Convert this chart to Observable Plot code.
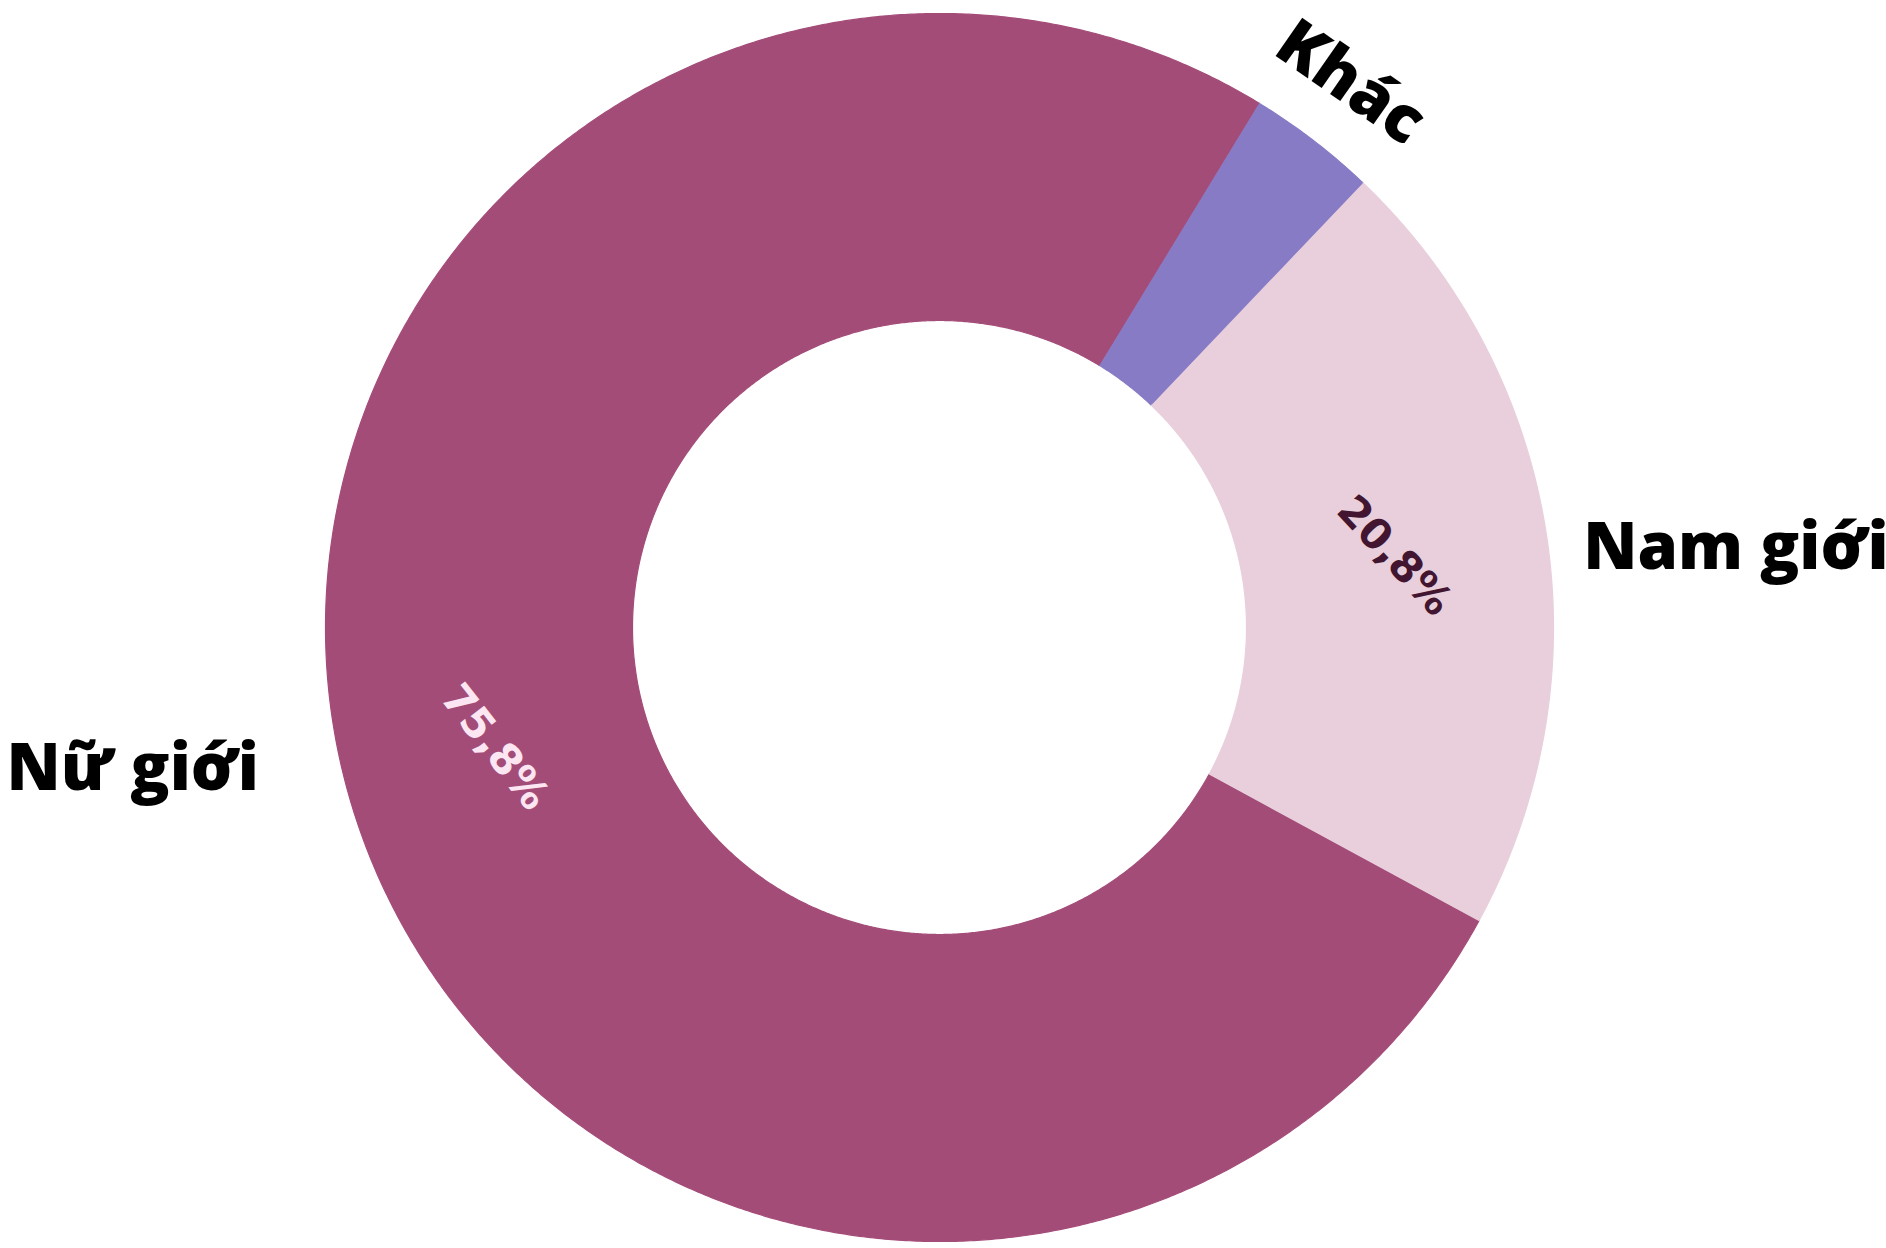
<!DOCTYPE html>
<html><head><meta charset="utf-8">
<script src="https://cdn.jsdelivr.net/npm/d3@7"></script>
<script src="https://cdn.jsdelivr.net/npm/@observablehq/plot@0.6"></script>
<style>html,body{margin:0;padding:0;background:#ffffff;overflow:hidden;}</style>
</head><body><div id="chart"></div>
<script>
// ---- data ----
const categories = ["Nữ giới", "Khác", "Nam giới"];
const shares = [75.8, 3.4, 20.8];
const colors = ["#a44c78", "#877bc6", "#e9cfdc"];

// ---- layout / style ----
const W = 1886, H = 1248;
const cx = 939, cy = 627, R = 614;       // pixel centre and outer radius
const innerRatio = 0.5;
const startDeg = 118.5;                  // clockwise from 12 o'clock
const pctRadius = 0.75;
const catFontSize = 65;
const catStyle = {
  "Nữ giới": {r: 1.05, anchor: "end", dx: -58, dy: -26, rotate: 0},
  "Nam giới": {r: 1.05, anchor: "start", dx: 7, dy: 21, rotate: 0},
  "Khác": {r: 1.11, anchor: "middle", dx: -4, dy: -4, rotate: 35}
};
const pctStyle = {
  "Nữ giới": {fill: "#fbe6f2", rotate: 52},
  "Nam giới": {fill: "#421630", rotate: 47}
};

// ---- derived slices ----
const total = d3.sum(shares);
let acc = startDeg;
const slices = categories.map((cat, i) => {
  const span = shares[i] / total * 360;
  const s = {cat, share: shares[i], a0: acc, a1: acc + span, mid: acc + span / 2};
  acc += span;
  return s;
});
const rad = (d) => d * Math.PI / 180;
const ring = slices.flatMap((s) => {
  const n = Math.max(2, Math.ceil((s.a1 - s.a0) * 3));
  const outer = d3.range(n + 1).map((k) => s.a0 + (s.a1 - s.a0) * k / n);
  const pts = outer.map((a) => ({cat: s.cat, x: Math.sin(rad(a)), y: Math.cos(rad(a))}));
  const inner = outer.slice().reverse().map((a) => ({cat: s.cat, x: innerRatio * Math.sin(rad(a)), y: innerRatio * Math.cos(rad(a))}));
  return pts.concat(inner);
});

const catMarks = slices.map((s) => {
  const st = catStyle[s.cat];
  return Plot.text([s], {
    x: (d) => st.r * Math.sin(rad(d.mid)),
    y: (d) => st.r * Math.cos(rad(d.mid)),
    text: "cat",
    textAnchor: st.anchor,
    dx: st.dx, dy: st.dy, rotate: st.rotate,
    fontFamily: "Open Sans", fontWeight: 800, fontSize: catFontSize, fill: "#000"
  });
});
const pctMarks = slices.filter((s) => pctStyle[s.cat]).map((s) => {
  const st = pctStyle[s.cat];
  return Plot.text([s], {
    x: (d) => pctRadius * Math.sin(rad(d.mid)),
    y: (d) => pctRadius * Math.cos(rad(d.mid)),
    text: (d) => d.share.toFixed(1).replace(".", ",") + "%",
    rotate: st.rotate, fill: st.fill,
    fontFamily: "DejaVu Sans", fontWeight: 700, fontSize: 42
  });
});

const chart = Plot.plot({
  width: W, height: H,
  margin: 0,
  style: {background: "#ffffff", overflow: "visible"},
  x: {domain: [-cx / R, (W - cx) / R], axis: null},
  y: {domain: [-(H - cy) / R, cy / R], axis: null},
  color: {domain: categories, range: colors},
  marks: [
    Plot.line(ring, {x: "x", y: "y", z: "cat", fill: "cat", stroke: "cat", strokeWidth: 1.2}),
    ...pctMarks,
    ...catMarks
  ]
});
document.getElementById("chart").appendChild(chart);
</script>
</body></html>
